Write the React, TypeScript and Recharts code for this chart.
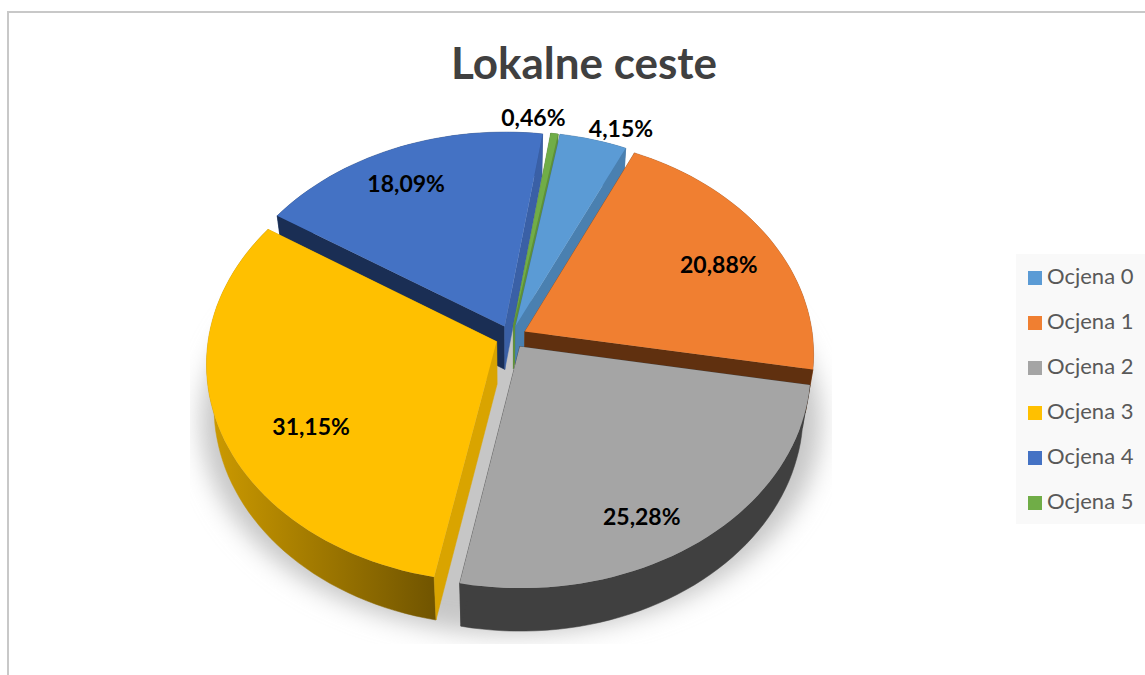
import React from "react";
import { PieChart, Pie, Legend } from "recharts";

const categories = ["Ocjena 0", "Ocjena 1", "Ocjena 2", "Ocjena 3", "Ocjena 4", "Ocjena 5"];
const shares = [4.15, 20.88, 25.28, 31.15, 18.09, 0.46];

const topColors = ["#5B9BD5", "#F07F31", "#A5A5A5", "#FFC000", "#4472C4", "#70AD47"];
const rimColors = ["#3F6F9C", "#A5551F", "#404040", "url(#rimGold)", "#2B4A80", "#4F7A32"];
const startWalls = ["#3F6F9C", "#8A4A1C", "#404040", "#D9A400", "#1A2E54", "#4F7A32"];
const endWalls = ["#4A80B0", "#60300F", "#404040", "#D9A400", "#3A60A6", "#5E9139"];

// painted back to front, the pie still goes round in the same direction
const drawOrder = [4, 5, 0, 1, 2, 3];
const labelRadius = [0.98, 0.72, 0.72, 0.76, 0.74, 1.08];
const labelShiftX = [29, 17, -4, 23, -17, -24];
const labelShiftY = [-15, 2, 32, 18, -8, -3];

const FIRST_EDGE = 9.9; // degrees clockwise from 12 o'clock where Ocjena 0 begins
const TILT = 0.7486;
const PERSPECTIVE = 0.099;
const EXPLODE = 0.054;
const DEPTH = 43;
const CX = 511;
const CY = 337;
const RADIUS = 288;
const FONT = "Lato, Carlito, Calibri, sans-serif";

const rows = drawOrder.map((i) => ({ name: categories[i], value: shares[i], fill: topColors[i], slot: i }));
const before = shares.slice(0, drawOrder[0]).reduce((a, b) => a + b, 0);
const total = shares.reduce((a, b) => a + b, 0);
const startAngle = 90 - (FIRST_EDGE + (before / total) * 360);

const rad = (d: number) => (d * Math.PI) / 180;

const project = (cx: number, cy: number, R: number, mid: number, r: number, theta: number, explode = EXPLODE) => {
  const U = explode * Math.sin(rad(mid)) + r * Math.sin(rad(theta));
  const V = explode * Math.cos(rad(mid)) + r * Math.cos(rad(theta));
  const d = 1 + PERSPECTIVE * V;
  return [cx + (U * R) / d, cy - (V * R * TILT) / d];
};

const lower = (p: number[], cx: number) => [cx + (p[0] - cx) * 0.975, p[1] + DEPTH];
const toPath = (pts: number[][]) => "M" + pts.map((p) => `${p[0].toFixed(1)},${p[1].toFixed(1)}`).join("L") + "Z";

function Slice(props: any) {
  const { cx, cy, outerRadius, startAngle: a0, endAngle: a1 } = props;
  const slot = props.slot ?? props.payload?.slot;
  const t0 = 90 - a0;
  const t1 = 90 - a1;
  const mid = (t0 + t1) / 2;
  const steps = Math.max(2, Math.ceil((t1 - t0) / 2));
  const rim: number[][] = [];
  for (let k = 0; k <= steps; k++) rim.push(project(cx, cy, outerRadius, mid, 1, t0 + ((t1 - t0) * k) / steps));
  const tip = project(cx, cy, outerRadius, mid, 0, t0);
  const wall = (p: number[]) => toPath([tip, p, lower(p, cx), lower(tip, cx)]);
  const outer = toPath([...rim, ...rim.map((p) => lower(p, cx)).reverse()]);
  const edge = (c: string) => ({ fill: c, stroke: c, strokeWidth: 0.5 });
  return (
    <g>
      <defs>
        <linearGradient id="rimGold" gradientUnits="userSpaceOnUse" x1={cx - 300} y1={0} x2={cx - 75} y2={0}>
          <stop offset="0" stopColor="#CC9A00" />
          <stop offset="1" stopColor="#705400" />
        </linearGradient>
      </defs>
      <path d={outer} {...edge(rimColors[slot])} />
      <path d={wall(rim[0])} {...edge(startWalls[slot])} />
      <path d={wall(rim[rim.length - 1])} {...edge(endWalls[slot])} />
      <path d={toPath([tip, ...rim])} fill={topColors[slot]} />
    </g>
  );
}

function FloorShadow(props: any) {
  const { cx, cy } = props;
  return (
    <g>
      <defs>
        <filter id="floorBlur" filterUnits="userSpaceOnUse" x={cx - 321} y={cy - 42} width={642} height={349}>
          <feGaussianBlur stdDeviation="12" />
        </filter>
      </defs>
      <ellipse cx={cx} cy={cy + 85} rx={310} ry={212} fill="#C6C6C6" filter="url(#floorBlur)" />
    </g>
  );
}

function PercentLabel(props: any) {
  const { cx, cy, outerRadius, midAngle, value } = props;
  const slot = props.slot ?? props.payload?.slot;
  const mid = 90 - midAngle;
  const [x, y] = project(cx, cy, outerRadius, mid, labelRadius[slot], mid);
  return (
    <text
      x={x + labelShiftX[slot]}
      y={y + labelShiftY[slot]}
      textAnchor="middle"
      dominantBaseline="central"
      fontFamily={FONT}
      fontWeight={700}
      fontSize={23}
      fill="#000"
    >
      {value.toFixed(2).replace(".", ",")}%
    </text>
  );
}

export default function App() {
  return (
    <div style={{ position: "absolute", left: 0, top: 0, width: 1145, height: 675, overflow: "hidden", background: "#fff" }}>
      <div
        style={{
          position: "absolute",
          left: 7,
          top: 11,
          width: 1138,
          height: 664,
          boxSizing: "border-box",
          borderTop: "2px solid #C8C8C8",
          borderLeft: "2px solid #C8C8C8",
        }}
      />
      <div style={{ position: "absolute", left: 1016, top: 254, width: 129, height: 270, background: "#F9F9F9" }} />
      <div style={{ position: "absolute", left: 0, top: 0 }}>
        <PieChart width={1145} height={675} margin={{ top: 0, right: 0, bottom: 0, left: 0 }}>
          <text x={584} y={62} textAnchor="middle" dominantBaseline="central" fontFamily={FONT} fontWeight={700} fontSize={44} fill="#404040">
            Lokalne ceste
          </text>
          <Pie
            data={[{ name: "floor", value: 1 }]}
            dataKey="value"
            cx={CX}
            cy={CY}
            outerRadius={RADIUS}
            legendType="none"
            shape={FloorShadow}
            isAnimationActive={false}
          />
          <Pie
            data={rows}
            dataKey="value"
            nameKey="name"
            cx={CX}
            cy={CY}
            innerRadius={0}
            outerRadius={RADIUS}
            startAngle={startAngle}
            endAngle={startAngle - 360}
            stroke="none"
            legendType="square"
            shape={Slice}
            label={PercentLabel}
            labelLine={false}
            isAnimationActive={false}
          />
          <Legend
            layout="vertical"
            iconType="square"
            iconSize={14}
            formatter={(v: string) => <span style={{ color: "#595959", marginLeft: 1 }}>{v}</span>}
            wrapperStyle={{
              left: 1016,
              top: 253,
              width: 129,
              height: 270,
              paddingLeft: 12,
              boxSizing: "border-box",
              fontFamily: FONT,
              fontSize: 22,
              lineHeight: "45px",
            }}
          />
        </PieChart>
      </div>
    </div>
  );
}
